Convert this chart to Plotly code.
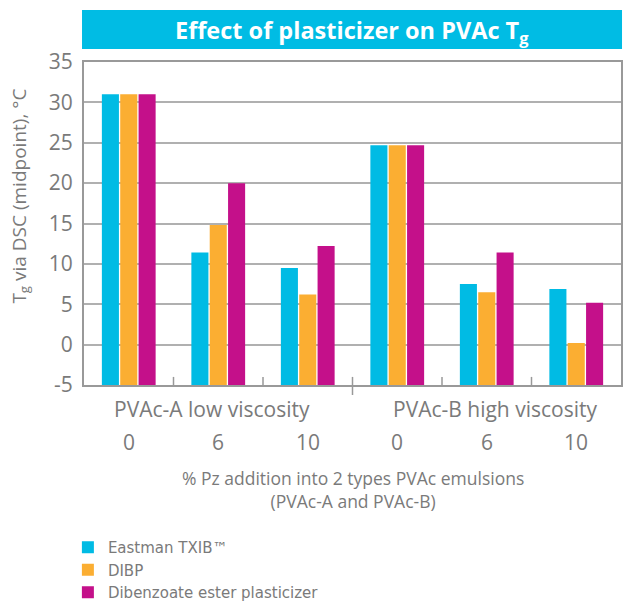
import plotly.graph_objects as go

groups = ["PVAc-A low viscosity", "PVAc-B high viscosity"]
pz_labels = ["0", "6", "10", "0", "6", "10"]
series_names = ["Eastman TXIB™", "DIBP", "Dibenzoate ester plasticizer"]
txib = [31.0, 11.4, 9.5, 24.7, 7.5, 6.9]
dibp = [31.0, 14.8, 6.2, 24.7, 6.5, 0.2]
dibenzoate = [31.0, 20.0, 12.2, 24.7, 11.4, 5.2]
colors = ["#00BBE4", "#FBAE32", "#C4108A"]
y_ticks = [35, 30, 25, 20, 15, 10, 5, 0, -5]
y_tick_text = ["35", "30", "25", "20", "15", "10", "5", "0", "-5"]
y_min, y_max = -5, 35

FONT = "Open Sans"
GRAY = "#7a7a7a"

xs = list(range(len(pz_labels)))
fig = go.Figure()
for name, vals, col in zip(series_names, [txib, dibp, dibenzoate], colors):
    fig.add_trace(go.Bar(
        x=xs, y=[v - y_min for v in vals], base=y_min, name=name,
        marker=dict(color=col, line=dict(width=0)),
        customdata=vals, hovertemplate="%{customdata}<extra>" + name + "</extra>",
    ))

annotations = []
group_shift = [-6, 8]
for gi, g in enumerate(groups):
    annotations.append(dict(x=gi * 3 + 1, y=-0.075, xref="x", yref="paper", text=g,
                            xshift=group_shift[gi],
                            showarrow=False, font=dict(family=FONT, size=21, color=GRAY),
                            xanchor="center", yanchor="middle"))
for i, t in enumerate(pz_labels):
    annotations.append(dict(x=i, y=-0.177, xref="x", yref="paper", text=t,
                            showarrow=False, font=dict(family=FONT, size=21, color=GRAY),
                            xanchor="center", yanchor="middle"))
annotations.append(dict(x=0.5, y=-0.325, xref="paper", yref="paper",
                        text="% Pz addition into 2 types PVAc emulsions<br>(PVAc-A and PVAc-B)",
                        showarrow=False, font=dict(family=FONT, size=17.5, color=GRAY),
                        xanchor="center", yanchor="middle"))
annotations.append(dict(x=-0.12, y=0.585, xref="paper", yref="paper",
                        text="T<sub>g</sub> via DSC (midpoint), °C", textangle=-90,
                        showarrow=False, font=dict(family=FONT, size=19, color=GRAY),
                        xanchor="center", yanchor="middle"))
annotations.append(dict(x=0.499, y=1.095, xref="paper", yref="paper",
                        text="<b>Effect of plasticizer on PVAc T<sub>g</sub></b>",
                        showarrow=False, font=dict(family=FONT, size=23.5, color="white"),
                        xanchor="center", yanchor="middle"))

shapes = [dict(type="rect", xref="paper", yref="paper", x0=-0.0037, x1=1.0019,
               y0=1.040, y1=1.161, fillcolor="#00BCE4", line=dict(width=0), layer="below")]
for b in [0.5, 1.5, 3.5, 4.5]:
    shapes.append(dict(type="line", xref="x", yref="paper", x0=b, x1=b, y0=0, y1=0.025,
                       line=dict(color="#999999", width=1.5)))
shapes.append(dict(type="line", xref="x", yref="paper", x0=2.5, x1=2.5, y0=0.025, y1=-0.031,
                   line=dict(color="#999999", width=1.5)))

fig.update_layout(
    width=623, height=602,
    margin=dict(l=84, r=2, t=62, b=217, autoexpand=False),
    paper_bgcolor="white", plot_bgcolor="white",
    barmode="group", bargap=0.385, bargroupgap=0.07,
    showlegend=True,
    legend=dict(x=-0.03, y=-0.452, xanchor="left", yanchor="top",
                font=dict(family="DejaVu Sans", size=15, color=GRAY), tracegroupgap=0,
                itemwidth=30, bgcolor="rgba(0,0,0,0)"),
    annotations=annotations, shapes=shapes,
    xaxis=dict(range=[-0.5, len(xs) - 0.5], showticklabels=False, ticks="",
               showgrid=False, zeroline=False, showline=True, mirror=True,
               linecolor="#999999", linewidth=2, automargin=False),
    yaxis=dict(range=[y_min, y_max], tickvals=y_ticks, ticktext=y_tick_text, ticks="",
               showgrid=True, gridcolor="#b0b0b0", gridwidth=1.5, zeroline=False,
               showline=True, mirror=True, linecolor="#999999", linewidth=2,
               ticklabelstandoff=5, automargin=False,
               tickfont=dict(family=FONT, size=21, color=GRAY)),
)
fig.write_html(
    "out.html",
    config={"displayModeBar": False},
    post_script="document.body.style.margin='0';document.body.style.overflow='hidden';",
)
